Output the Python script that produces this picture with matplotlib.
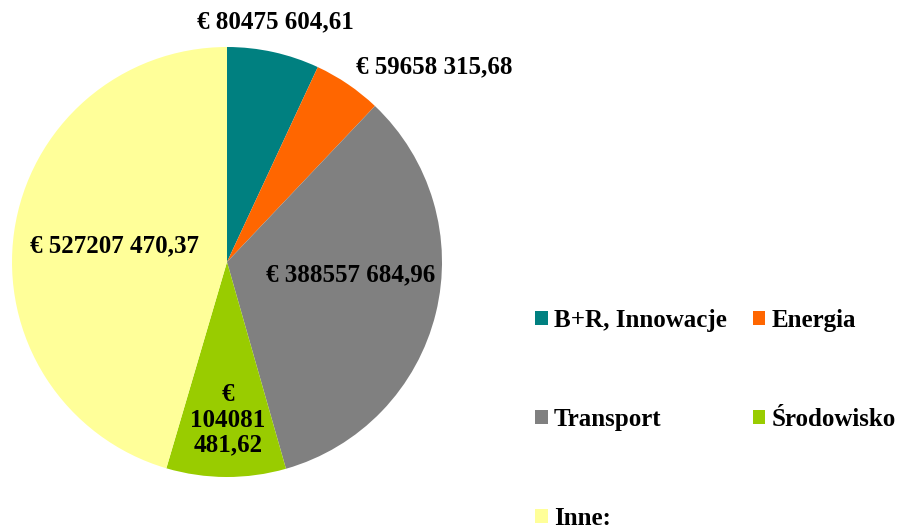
import matplotlib
matplotlib.use("Agg")
import matplotlib.pyplot as plt

plt.rcParams['font.family'] = ['Liberation Serif', 'DejaVu Serif']
plt.rcParams['font.weight'] = 'bold'

categories = ["B+R, Innowacje", "Energia", "Transport", "Środowisko", "Inne:"]
values = [80475604.61, 59658315.68, 388557684.96, 104081481.62, 527207470.37]
value_labels = ["€ 80475 604,61", "€ 59658 315,68", "€ 388557 684,96",
                "€\n104081\n481,62", "€ 527207 470,37"]
colors = ["#008080", "#FF6600", "#808080", "#99CC00", "#FFFF99"]
label_pos = [(0.225, 1.115), (0.965, 0.91), (0.575, -0.06), (0.005, -0.735), (-0.525, 0.075)]

fig = plt.figure(figsize=(9.05, 5.3), dpi=100)
ax = fig.add_axes([12 / 905, 53 / 530, 430 / 905, 430 / 530])
wedges, _ = ax.pie(values, colors=colors, startangle=90, counterclock=False,
                   radius=1, wedgeprops=dict(linewidth=0))
ax.set_xlim(-1, 1)
ax.set_ylim(-1, 1)
ax.set_aspect('equal')

for (x, y), txt in zip(label_pos, value_labels):
    ax.text(x, y, txt, ha='center', va='center', fontsize=18,
            fontweight='bold', linespacing=1.12)

order = [0, 2, 4, 1, 3]
leg = fig.legend([wedges[i] for i in order], [categories[i] for i in order],
                 loc='upper left', bbox_to_anchor=(535 / 905, 1 - 309 / 530),
                 ncol=2, frameon=False, fontsize=18, borderpad=0,
                 borderaxespad=0, handlelength=0.5, handleheight=0.5,
                 handletextpad=0.25, labelspacing=3.04, columnspacing=1.05)

fig.savefig("out.png", dpi=100)
